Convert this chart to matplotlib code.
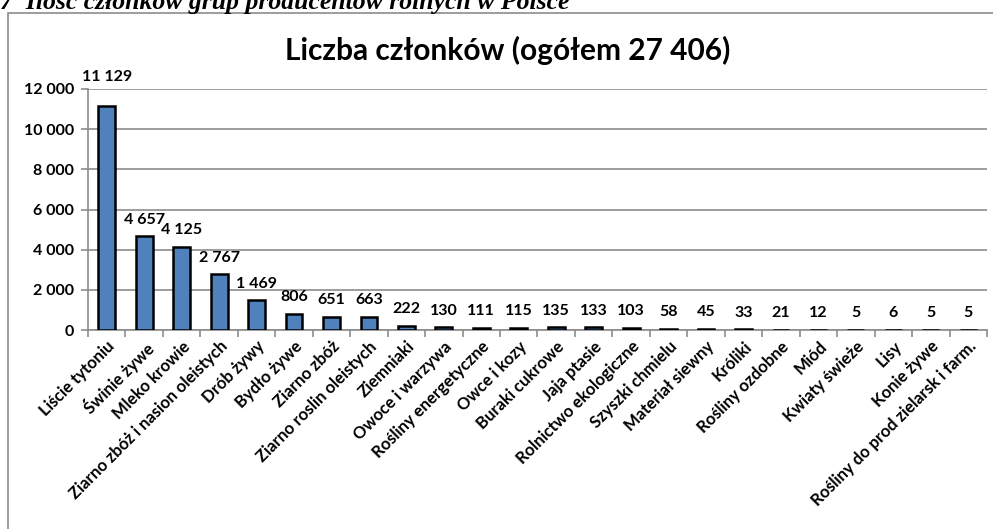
import matplotlib
matplotlib.use("Agg")
import matplotlib.pyplot as plt
from matplotlib.patches import Rectangle
import numpy as np

categories = ["Liście tytoniu", "Świnie żywe", "Mleko krowie",
              "Ziarno zbóż i nasion oleistych", "Drób żywy", "Bydło żywe",
              "Ziarno zbóż", "Ziarno roslin oleistych", "Ziemniaki",
              "Owoce i warzywa", "Rośliny energetyczne", "Owce i kozy",
              "Buraki cukrowe", "Jaja ptasie", "Rolnictwo ekologiczne",
              "Szyszki chmielu", "Materiał siewny", "Króliki",
              "Rośliny ozdobne", "Miód", "Kwiaty świeże", "Lisy",
              "Konie żywe", "Rośliny do prod zielarsk i farm."]
values = [11129, 4657, 4125, 2767, 1469, 806, 651, 663, 222, 130, 111, 115,
          135, 133, 103, 58, 45, 33, 21, 12, 5, 6, 5, 5]
yticks = [0, 2000, 4000, 6000, 8000, 10000, 12000]
title = "Liczba członków (ogółem 27 406)"
caption = "7  Ilość członków grup producentów rolnych w Polsce"

def fmt(v):
    return f"{v:,}".replace(",", " ")

FONT = ["Lato", "DejaVu Sans"]
plt.rcParams['font.family'] = FONT

W, H = 993, 529
fig = plt.figure(figsize=(W / 100, H / 100), dpi=100)

# outer chart border
fig.patches.append(Rectangle((8 / W, -0.05), 1.2, (H - 12.5) / H + 0.05,
                             transform=fig.transFigure, fill=False,
                             edgecolor="#8c8c8c", linewidth=1.2))

# caption (cut at top)
fig.text(0 / W, (H - 9) / H, caption, family=["Liberation Serif"],
         fontsize=18.5, fontweight="bold", style="italic", va="baseline",
         ha="left")

ax = fig.add_axes([88 / W, (H - 330) / H, (987 - 88) / W, (330 - 89) / H])
x = np.arange(len(categories))
ax.bar(x, values, width=0.45, color="#4F81BD", edgecolor="black",
       linewidth=1.8, zorder=3)
ax.set_xlim(-0.5, len(categories) - 0.5)
ax.set_ylim(0, 12000)
ax.set_yticks(yticks)
ax.set_yticklabels([fmt(v) for v in yticks], fontweight="bold", fontsize=11.5)
ax.yaxis.grid(True, color="#8c8c8c", linewidth=1.2, zorder=0)
ax.set_axisbelow(True)
for s in ["top", "right"]:
    ax.spines[s].set_visible(False)
for s in ["left", "bottom"]:
    ax.spines[s].set_color("#8c8c8c")
    ax.spines[s].set_linewidth(1.2)
ax.tick_params(axis="y", length=5, color="#8c8c8c", width=1.2, pad=5)

# x ticks at category boundaries
ax.set_xticks(np.arange(-0.5, len(categories) + 0.5, 1.0))
ax.set_xticklabels([])
ax.tick_params(axis="x", which="major", length=5, color="#8c8c8c", width=1.2)
ax.set_xticks(x, minor=True)
ax.set_xticklabels(categories, minor=True, rotation=45, ha="right",
                   va="top", rotation_mode="anchor", fontweight="bold",
                   fontsize=12)
ax.tick_params(axis="x", which="minor", length=0, pad=6)

vmax = max(values)
for xi, v in zip(x, values):
    off = 16 if v == vmax else 7
    ax.annotate(fmt(v), (xi, v), xytext=(0, off), textcoords="offset points",
                ha="center", va="bottom", fontweight="bold", fontsize=11.5,
                annotation_clip=False)

fig.text((285 + 730) / 2 / W, (H - 50) / H, title, ha="center",
         va="center", fontsize=21.5, fontweight="bold")

fig.savefig("out.png", dpi=100)
